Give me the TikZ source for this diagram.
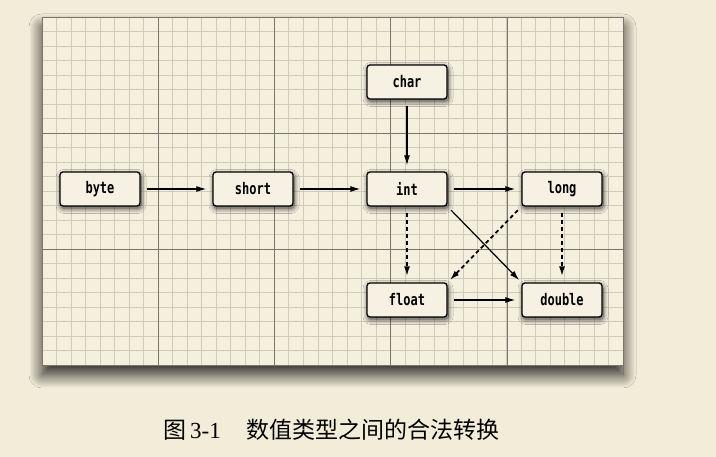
\documentclass[tikz,border=0pt]{standalone}
\usepackage{fontspec}
\setmainfont{Liberation Serif}
\newfontfamily\boxfont[FakeStretch=0.75]{DejaVu Sans Mono}
\newfontfamily\cjk{Noto Sans CJK SC}
\usepackage{xcolor}
\usetikzlibrary{arrows.meta}
\usetikzlibrary{shadows.blur}
\definecolor{paper}{RGB}{243,236,216}
\definecolor{sheet}{RGB}{245,239,222}
\definecolor{boxfill}{RGB}{246,241,227}
\definecolor{minorgrid}{RGB}{208,202,189}
\definecolor{majorgrid}{RGB}{122,117,107}
\newcommand{\tname}[1]{\boxfont\bfseries\fontsize{16}{18}\selectfont #1}

\begin{document}
\begin{tikzpicture}[x=1pt,y=1pt,
    typebox/.style={rectangle,rounded corners=3pt,draw=black,line width=1.3pt,
                    fill=boxfill,minimum width=80pt,minimum height=34pt,
                    blur shadow={shadow xshift=1pt,shadow yshift=-2.5pt,
                                 shadow blur radius=5pt,shadow blur steps=12,
                                 shadow opacity=75}},
    conv/.style={draw=black,line width=1.2pt,-{Latex[length=10pt,width=6pt]},
                 shorten <=6pt,shorten >=6pt},
    lossy/.style={conv,line width=1.8pt,dash pattern=on 4pt off 3pt}]
 \fill[paper] (0,0) rectangle (716,457);
 \useasboundingbox (0,0) rectangle (716,457);

 \fill[sheet,blur shadow={shadow xshift=0pt,shadow yshift=-10pt,
        shadow blur radius=13pt,shadow blur steps=30,shadow opacity=85}]
      (42,92) rectangle (623,440);
 \begin{scope}[shift={(42,92)}]
  \draw[minorgrid,line width=0.9pt,xstep=14.525,ystep=14.5] (0,0) grid (581,348);
  \draw[majorgrid,line width=0.6pt,xstep=116.2,ystep=116] (0,0) grid (581,348);
  \draw[majorgrid,line width=0.8pt] (0,0) rectangle (581,348);
 \end{scope}

 \draw (100,268) node[typebox] (byte)   {\tname{byte}};
 \draw (253,268) node[typebox] (short)  {\tname{short}};
 \draw (407,268) node[typebox] (int)    {\tname{int}};
 \draw (562,268) node[typebox] (long)   {\tname{long}};
 \draw (407,375) node[typebox] (char)   {\tname{char}};
 \draw (407,157) node[typebox] (float)  {\tname{float}};
 \draw (562,157) node[typebox] (double) {\tname{double}};

 \draw[conv]  (byte)  -- (short);
 \draw[conv]  (short) -- (int);
 \draw[conv]  (int)   -- (long);
 \draw[conv]  (char)  -- (int);
 \draw[conv]  (float) -- (double);
 \draw[conv,shorten <=5pt,shorten >=3pt] (int.south east) -- (double.north west);
 \draw[lossy] (int)   -- (float);
 \draw[lossy] (long)  -- (double);
 \draw[lossy,shorten <=5pt,shorten >=3pt] (long.south west) -- (float.north east);

 \draw (163,27) node[anchor=west,inner sep=0pt] (caption)
       {\fontsize{23}{28}\selectfont{\cjk 图}\hspace{4pt}3-1\hspace{26pt}{\cjk 数值类型之间的合法转换}};
\end{tikzpicture}
\end{document}
